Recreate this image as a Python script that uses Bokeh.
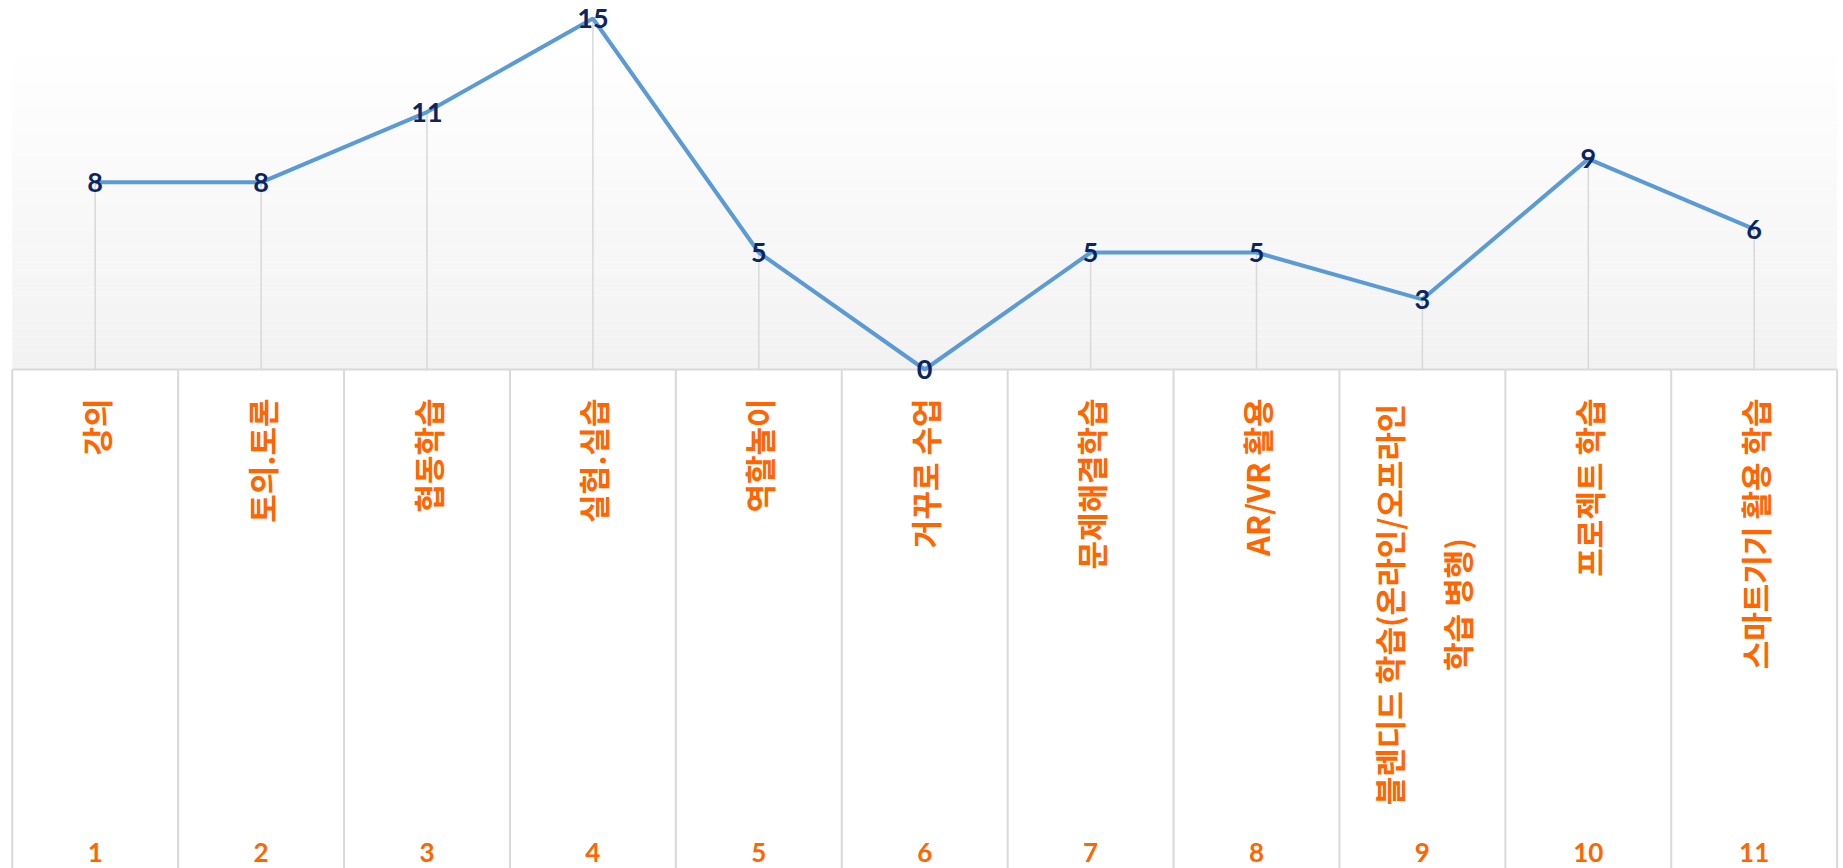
import numpy as np
from bokeh.plotting import figure
from bokeh.models import ColumnDataSource, Range1d
from bokeh.embed import file_html
from bokeh.resources import INLINE
from bokeh.core.properties import value

# ---------------- data ----------------
categories = ["강의", "토의.토론", "협동학습", "실험.실습", "역할놀이", "거꾸로 수업",
              "문제해결학습", "AR/VR 활용", "블렌디드 학습(온라인/오프라인\n학습 병행)",
              "프로젝트 학습", "스마트기기 활용 학습"]
values = [8, 8, 11, 15, 5, 0, 5, 5, 3, 9, 6]
tick_labels = ["1", "2", "3", "4", "5", "6", "7", "8", "9", "10", "11"]

# ---------------- layout ----------------
W, H = 1843, 868
n = len(categories)
xs = list(range(1, n + 1))
px_x = 165.9          # pixels per category
left_px = 11.75       # left edge of first category
px_y = 23.4           # pixels per value unit
axis_px = 369         # pixel row of zero line

x0 = 0.5 - left_px / px_x
x1 = x0 + W / px_x
y1 = axis_px / px_y
y0 = -(H - axis_px) / px_y

def py(pix):
    """pixel row -> data y"""
    return (axis_px - pix) / px_y

p = figure(width=W, height=H, x_range=Range1d(x0, x1), y_range=Range1d(y0, y1),
           output_backend="svg", toolbar_location=None, min_border=0,
           x_axis_location=None, y_axis_location=None)
p.grid.visible = False
p.outline_line_color = None
p.background_fill_color = "white"
p.border_fill_color = "white"

# gradient plot-area background (white at top -> #f2f2f2 at the axis)
nb = 40
g_top = py(40)
edges = np.linspace(0, g_top, nb + 1)
cols = []
for i in range(nb):
    t = (i + 0.5) / nb
    c = int(round(242 + (255 - 242) * t))
    cols.append("#%02x%02x%02x" % (c, c, c))
p.quad(left=0.5, right=n + 0.5, bottom=edges[:-1], top=edges[1:],
       fill_color=cols, line_color=None)

# table vertical lines below the axis
bounds = [i + 0.5 for i in range(n + 1)]
p.segment(x0=bounds, y0=[y0] * len(bounds), x1=bounds, y1=[0] * len(bounds),
          line_color="#d9d9d9", line_width=2)
# axis line
p.segment(x0=[0.5], y0=[0], x1=[n + 0.5], y1=[0], line_color="#d9d9d9", line_width=2)

src = ColumnDataSource(dict(x=xs, v=values, vt=[str(v) for v in values],
                            zero=[0] * n))
# drop lines
p.segment(x0="x", y0="zero", x1="x", y1="v", source=src,
          line_color="#d9d9d9", line_width=1.5)
# series line
p.line("x", "v", source=src, line_color="#5B9BD5", line_width=4)
# value labels
p.text("x", "v", text="vt", source=src, text_align="center", text_baseline="middle",
       text_font=value("Lato"), text_font_style="bold", text_font_size="27px",
       text_color="#0b2462")

# category labels (rotated, reading bottom-to-top, top aligned)
single = [i for i, c in enumerate(categories) if "\n" not in c]
multi = [i for i, c in enumerate(categories) if "\n" in c]
label_top = py(398)
p.text(x=[xs[i] for i in single], y=[label_top] * len(single),
       text=[categories[i] for i in single], angle=np.pi / 2,
       text_align="right", text_baseline="middle",
       text_font=value("Noto Sans CJK KR"), text_font_style="bold",
       text_font_size="31px", text_color="#FF6600")
if multi:
    p.text(x=[xs[i] for i in multi], y=[py(604)] * len(multi),
           text=[categories[i] for i in multi], angle=np.pi / 2,
           text_align="center", text_baseline="middle", text_line_height=1.5,
           text_font=value("Noto Sans CJK KR"), text_font_style="bold",
           text_font_size="31px", text_color="#FF6600")

# category numbers at the bottom
p.text(x=xs, y=[py(852)] * n, text=tick_labels, text_align="center",
       text_baseline="middle", text_font=value("Lato"), text_font_style="bold",
       text_font_size="26px", text_color="#FF6600")

open("out.html", "w").write(file_html(p, INLINE))
